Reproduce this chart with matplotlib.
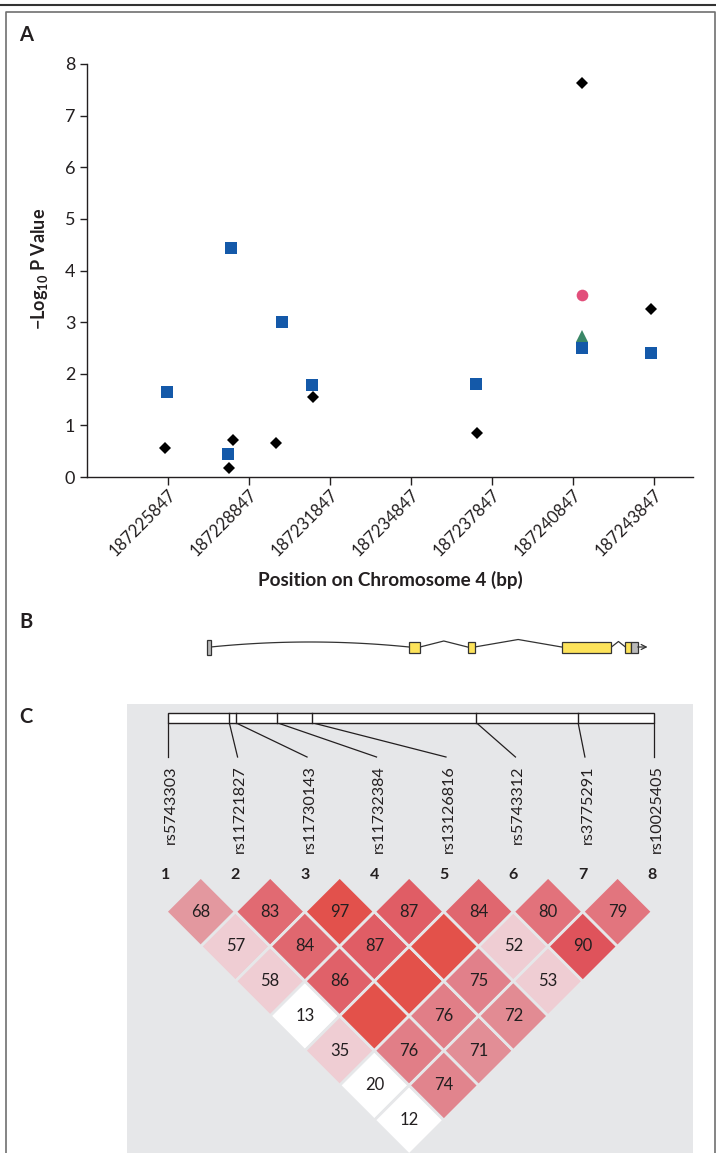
import numpy as np
import matplotlib
matplotlib.use("Agg")
import matplotlib.pyplot as plt
from matplotlib.patches import Rectangle, Polygon
from matplotlib.lines import Line2D
from matplotlib.colors import LinearSegmentedColormap

plt.rcParams['font.family'] = ['Lato', 'DejaVu Sans']
plt.rcParams['mathtext.fontset'] = 'custom'
plt.rcParams['mathtext.rm'] = 'Lato'
plt.rcParams['mathtext.bf'] = 'Lato:bold'
plt.rcParams['mathtext.it'] = 'Lato:italic'

# ------------------------------------------------------------------ data
tick_positions = [187225847, 187228847, 187231847, 187234847,
                  187237847, 187240847, 187243847]
tick_labels = [str(t) for t in tick_positions]
y_ticks = [0, 1, 2, 3, 4, 5, 6, 7, 8]

diamond_pos = [187225750, 187228120, 187228280, 187229860,
               187231230, 187237290, 187241180, 187243750]
diamond_logp = [0.56, 0.17, 0.72, 0.65, 1.54, 0.85, 7.63, 3.26]

square_pos = [187225820, 187228080, 187228190, 187230080,
              187231190, 187237270, 187241200, 187243730]
square_logp = [1.65, 0.45, 4.44, 3.00, 1.78, 1.80, 2.49, 2.40]

circle_pos = [187241180]
circle_logp = [3.53]
triangle_pos = [187241180]
triangle_logp = [2.74]

snp_names = ['rs5743303', 'rs11721827', 'rs11730143', 'rs11732384',
             'rs13126816', 'rs5743312', 'rs3775291', 'rs10025405']
snp_pos = [187225862, 187228129, 187228362, 187229895,
           187231188, 187237277, 187241047, 187243873]

# gene structure (panel B)
exon_start = [187227310, 187234784, 187236951, 187240436, 187242799, 187243021]
exon_end = [187227440, 187235191, 187237214, 187242280, 187243021, 187243254]
exon_kind = ['utr5', 'cds', 'cds', 'cds', 'cds', 'utr3']
gene_end = 187243617

# pairwise LD (D' x 100); row k = SNP k+1 against SNPs k+2..8
ld_dprime = [
    [68, 57, 58, 13, 35, 20, 12],
    [83, 84, 86, 100, 76, 74],
    [97, 87, 100, 76, 71],
    [87, 100, 75, 72],
    [84, 52, 53],
    [80, 90],
    [79],
]
# 2 = strong LD (shaded by D'), 1 = weak evidence, 0 = none
ld_class = [
    [2, 1, 1, 0, 1, 0, 0],
    [2, 2, 2, 2, 2, 2],
    [2, 2, 2, 2, 2],
    [2, 2, 2, 2],
    [2, 1, 1],
    [2, 2],
    [2],
]

# ------------------------------------------------------------------ layout helpers
W, H = 716, 1153
fig = plt.figure(figsize=(W / 100, H / 100), dpi=100)
fig.patch.set_facecolor('white')


def fx(px):
    return px / W


def fy(py):
    return 1 - py / H


TXT = '#231F20'

# frame
fig.add_artist(Line2D([0, 1], [fy(5), fy(5)], transform=fig.transFigure,
                      color='#333333', lw=1.5))
fig.add_artist(Line2D([fx(6), fx(6), fx(715), fx(715)],
                      [0, fy(12), fy(12), 0], transform=fig.transFigure,
                      color='#707070', lw=1.2))

# ------------------------------------------------------------------ panel A
axA = fig.add_axes([fx(87), fy(477), (693 - 87) / W, (477 - 64) / H])
axA.plot(square_pos, square_logp, 's', ms=8.6, color='#1459A9', mew=0, zorder=3)
axA.plot(diamond_pos, diamond_logp, 'D', ms=6.0, color='black', mew=0, zorder=4)
axA.plot(circle_pos, circle_logp, 'o', ms=8.4, color='#E24F7B', mew=0, zorder=4)
axA.plot(triangle_pos, triangle_logp, '^', ms=8.4, color='#3A8767', mew=0, zorder=4)

axA.set_xlim(187222860, 187245300)
axA.set_ylim(0, 8)
axA.set_xticks(tick_positions)
axA.set_xticklabels([])
for t, lab in zip(tick_positions, tick_labels):
    axA.annotate(lab, xy=(t, 0), xycoords=('data', 'axes fraction'),
                 xytext=(5.5, -15), textcoords='offset pixels',
                 rotation=45, ha='right', va='center', rotation_mode='anchor',
                 fontsize=12, color=TXT, annotation_clip=False)
axA.set_yticks(y_ticks)
axA.set_yticklabels([str(v) for v in y_ticks], fontsize=13, color=TXT)
for s in ['top', 'right']:
    axA.spines[s].set_visible(False)
for s in ['left', 'bottom']:
    axA.spines[s].set_linewidth(1.0)
    axA.spines[s].set_color('#231F20')
axA.tick_params(axis='y', length=5, width=1.0, pad=3.5, color='#231F20')
axA.tick_params(axis='x', length=6, width=1.0, pad=0, color='#231F20')

axA.set_ylabel(r'$\mathbf{-Log_{10}}$ P Value', fontsize=13,
               fontweight='bold', color=TXT, va='center')
axA.yaxis.set_label_coords((39 - 87) / 606, (477 - 269) / 413)
axA.set_xlabel('Position on Chromosome 4 (bp)', fontsize=13.6,
               fontweight='bold', color=TXT, va='center')
axA.xaxis.set_label_coords((390 - 87) / 606, (477 - 580) / 413)

# panel letters
for letter, ypx in [('A', 41), ('B', 628), ('C', 723)]:
    fig.text(fx(19), fy(ypx), letter, fontsize=14.5, fontweight='bold',
             color=TXT, ha='left', va='baseline')

# ------------------------------------------------------------------ panel B
axB = fig.add_axes([fx(87), fy(667), (693 - 87) / W, 40 / H])
axB.set_xlim(axA.get_xlim())
axB.set_ylim(-20, 20)
axB.axis('off')

exon_style = {'utr5': ('#B9B9B9', 7.5), 'cds': ('#FDE35A', 5.5),
              'utr3': ('#B9B9B9', 5.5)}
for s, e, k in zip(exon_start, exon_end, exon_kind):
    col, hh = exon_style[k]
    axB.add_patch(Rectangle((s, -hh), e - s, 2 * hh, facecolor=col,
                            edgecolor='#333333', lw=0.9, zorder=3))

intron_peak = [5.0, 6.0, 7.5, 5.5]
for n in range(len(exon_start) - 2):
    a, b = exon_end[n], exon_start[n + 1]
    h = intron_peak[n]
    if n == 0:
        t = np.linspace(0, 1, 60)
        axB.plot(a + (b - a) * t, 4 * h * t * (1 - t), color='#333333', lw=0.9)
    else:
        axB.plot([a, (a + b) / 2, b], [0, h, 0], color='#333333', lw=0.9)
axB.annotate('', xy=(gene_end, 0), xytext=(exon_end[-1], 0),
             arrowprops=dict(arrowstyle='->', lw=0.9, color='#333333',
                             mutation_scale=9, shrinkA=0, shrinkB=0))

# ------------------------------------------------------------------ panel C
U = 69.47          # px per SNP index step
X1 = 168.1         # px of SNP index 1
BG = '#E6E7E9'
axC = fig.add_axes([fx(127), 0, (693 - 127) / W, (H - 704) / H])
axC.set_facecolor(BG)
axC.set_xlim(1 - (X1 - 127) / U, 1 + (693 - X1) / U)
axC.set_ylim((H - 704) / U, 0)
for s in axC.spines.values():
    s.set_visible(False)
axC.set_xticks([])
axC.set_yticks([])

n_snp = len(snp_names)
span = snp_pos[-1] - snp_pos[0]


def idx_of(bp):
    return 1 + (n_snp - 1) * (bp - snp_pos[0]) / span


bar_top, bar_bot = (712.7 - 704) / U, (722.7 - 704) / U
axC.add_patch(Rectangle((1, bar_top), n_snp - 1, bar_bot - bar_top,
                        facecolor='white', edgecolor='#231F20', lw=1.0, zorder=3))
line_end = (757 - 704) / U
for k, bp in enumerate(snp_pos):
    xi = idx_of(bp)
    if 0 < k < n_snp - 1:
        axC.plot([xi, xi], [bar_top, bar_bot], color='#231F20', lw=1.0, zorder=4)
    axC.plot([xi, k + 1], [bar_bot, line_end], color='#231F20', lw=0.9, zorder=2)
    axC.text(k + 1 + 0.04, (765 - 704) / U, snp_names[k], rotation=90,
             ha='center', va='top', fontsize=11.6, color=TXT)

GX = -0.03  # triangle grid offset
for k in range(n_snp):
    axC.text(k + 1 + GX, (875 - 704) / U, str(k + 1), fontsize=11.5,
             fontweight='bold', ha='center', va='center', color=TXT)

cmap = LinearSegmentedColormap.from_list('ld', [
    (0.00, '#E3989F'), (0.22, '#E1808A'), (0.375, '#E2727B'),
    (0.53, '#E0646C'), (0.69, '#DF535B'), (0.90, '#E2514C'),
    (1.00, '#E3514A')])
row1_y = (911.7 - 704) / U
for a, (vals, cls) in enumerate(zip(ld_dprime, ld_class)):
    i = a + 1
    for b, (v, c) in enumerate(zip(vals, cls)):
        j = i + 1 + b
        cx = (i + j) / 2 + GX
        cy = row1_y + 0.5 * (j - i - 1)
        if c == 2:
            col = cmap((v / 100 - 0.68) / 0.32)
        elif c == 1:
            col = '#EFCDD3'
        else:
            col = 'white'
        axC.add_patch(Polygon([(cx - 0.5, cy), (cx, cy - 0.5),
                               (cx + 0.5, cy), (cx, cy + 0.5)],
                              closed=True, facecolor=col, edgecolor=BG,
                              lw=2.0, zorder=2))
        if v < 100:
            axC.text(cx, cy, str(v), fontsize=12, ha='center',
                     va='center', color=TXT, zorder=3)

fig.savefig('out.png', dpi=100, facecolor='white')
